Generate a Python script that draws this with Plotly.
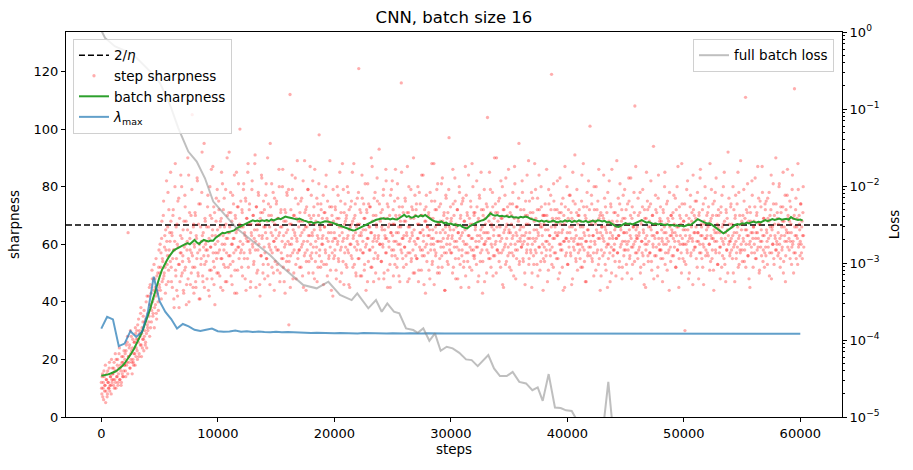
import plotly.graph_objects as go

# ---------------- data ----------------
eta = 0.03
threshold = 2 / eta  # 2/eta

# step sharpness, one value every 50 steps starting at step 0
step_sharp = [
    12, 8, 15, 10, 6, 14, 11, 18, 9, 13, 7, 16, 12, 10, 19, 11, 14, 8, 13, 17,
    15, 11, 19, 13, 22, 10, 16, 14, 20, 12, 17, 24, 13, 18, 11, 21, 15, 19, 14, 23,
    18, 22, 14, 25, 19, 28, 64, 21, 24, 17, 30, 20, 23, 15, 27, 19, 22, 26, 18, 29,
    24, 30, 20, 27, 34, 22, 29, 25, 38, 21, 31, 27, 35, 23, 28, 33, 26, 40, 24, 32,
    30, 42, 35, 28, 46, 38, 33, 51, 40, 36, 44, 31, 48, 39, 55, 34, 43, 50, 37, 58,
    45, 60, 52, 41, 68, 55, 48, 75, 50, 63, 43, 58, 82, 53, 66, 47, 72, 56, 61, 85,
    52, 64, 45, 70, 58, 38, 61, 88, 49, 55, 67, 42, 59, 76, 53, 47, 63, 57, 80, 50,
    56, 44, 68, 51, 73, 60, 39, 58, 65, 48, 84, 54, 62, 46, 70, 57, 105, 52, 66, 43,
    59, 71, 47, 63, 55, 82, 50, 67, 41, 58, 74, 53, 61, 92, 49, 64, 56, 45, 69, 60,
    54, 66, 58, 77, 44, 62, 51, 70, 59, 86, 48, 65, 57, 73, 52, 39, 63, 68, 55, 79,
    61, 50, 72, 58, 66, 45, 69, 55, 81, 63, 53, 76, 60, 47, 67, 57, 90, 62, 52, 71,
    64, 56, 78, 49, 68, 60, 54, 74, 62, 43, 70, 58, 85, 65, 51, 73, 59, 66, 100, 57,
    66, 52, 71, 60, 79, 57, 64, 48, 75, 62, 69, 55, 88, 61, 72, 58, 45, 67, 63, 82,
    59, 70, 54, 65, 91, 61, 73, 50, 67, 58, 77, 63, 46, 69, 56, 84, 62, 71, 53, 66,
    72, 57, 64, 81, 55, 68, 49, 74, 60, 66, 95, 58, 70, 52, 63, 78, 61, 44, 67, 59,
    62, 75, 53, 69, 58, 86, 64, 50, 71, 57, 66, 80, 55, 63, 47, 72, 60, 68, 54, 77,
    65, 51, 32, 60, 112, 56, 67, 62, 79, 48, 70, 58, 64, 83, 53, 69, 61, 57, 74, 66,
    58, 71, 63, 52, 76, 60, 68, 45, 65, 89, 57, 72, 54, 66, 61, 79, 50, 70, 63, 56,
    69, 55, 64, 82, 59, 73, 48, 67, 61, 57, 76, 63, 52, 70, 98, 58, 65, 74, 54, 62,
    60, 77, 53, 66, 71, 57, 84, 62, 49, 68, 64, 56, 73, 59, 67, 44, 70, 61, 79, 55,
    64, 58, 72, 51, 67, 80, 61, 55, 69, 63, 47, 75, 59, 66, 88, 54, 62, 71, 57, 68,
    53, 70, 62, 58, 78, 46, 65, 60, 73, 56, 67, 85, 52, 63, 69, 59, 74, 50, 66, 61,
    67, 55, 121, 63, 72, 58, 64, 49, 76, 61, 57, 69, 53, 81, 65, 60, 71, 47, 62, 74,
    58, 66, 73, 52, 64, 87, 59, 70, 55, 62, 78, 50, 67, 61, 75, 56, 63, 93, 60, 68,
    71, 54, 65, 60, 77, 48, 69, 63, 57, 82, 62, 74, 51, 66, 59, 70, 45, 64, 79, 56,
    63, 72, 58, 67, 53, 86, 61, 69, 55, 76, 64, 49, 70, 60, 66, 116, 57, 73, 62, 52,
    68, 59, 75, 56, 64, 71, 47, 66, 80, 61, 57, 69, 54, 73, 63, 58, 90, 65, 50, 70,
    60, 74, 55, 67, 62, 51, 78, 64, 58, 70, 84, 56, 65, 61, 46, 72, 59, 68, 77, 54,
    66, 57, 71, 63, 48, 69, 60, 75, 53, 65, 62, 88, 58, 72, 56, 64, 79, 50, 67, 61,
    73, 55, 64, 59, 81, 52, 68, 62, 70, 57, 44, 66, 76, 60, 54, 71, 63, 97, 58, 65,
    57, 69, 62, 50, 74, 65, 59, 83, 55, 67, 61, 72, 48, 64, 58, 78, 53, 70, 63, 56,
    64, 76, 52, 68, 60, 87, 57, 66, 71, 54, 63, 45, 69, 59, 75, 62, 51, 67, 80, 58,
    70, 56, 65, 61, 53, 73, 59, 68, 49, 77, 63, 57, 85, 62, 66, 54, 72, 60, 47, 69,
    61, 74, 58, 104, 64, 55, 70, 62, 79, 52, 67, 59, 73, 56, 65, 90, 60, 71, 50, 66,
    58, 68, 75, 54, 63, 61, 82, 57, 69, 46, 72, 64, 59, 77, 53, 66, 62, 70, 56, 86,
    65, 52, 71, 60, 67, 57, 74, 63, 49, 69, 81, 58, 64, 55, 73, 61, 68, 95, 54, 62,
    72, 59, 63, 78, 55, 66, 61, 50, 70, 64, 57, 84, 60, 67, 53, 75, 62, 58, 69, 45,
    60, 71, 56, 65, 88, 58, 69, 62, 53, 76, 64, 59, 72, 51, 66, 80, 57, 63, 70, 55,
    67, 54, 74, 61, 58, 70, 47, 65, 79, 60, 63, 56, 72, 119, 59, 68, 52, 75, 62, 66,
    57, 69, 63, 82, 55, 64, 71, 50, 67, 60, 74, 58, 65, 44, 70, 61, 87, 56, 68, 62,
    64, 53, 72, 59, 66, 77, 56, 62, 69, 48, 75, 61, 58, 91, 65, 54, 71, 60, 67, 57,
    70, 62, 55, 68, 60, 84, 52, 66, 73, 58, 63, 47, 69, 61, 78, 56, 65, 59, 72, 101,
    59, 67, 74, 54, 63, 57, 80, 61, 68, 51, 65, 72, 58, 62, 86, 55, 70, 64, 49, 66,
    63, 56, 69, 61, 76, 53, 65, 59, 71, 45, 67, 60, 82, 57, 64, 73, 50, 68, 62, 58,
    71, 60, 54, 66, 62, 89, 57, 70, 63, 52, 74, 59, 65, 68, 48, 61, 77, 56, 64, 69,
    58, 72, 64, 50, 67, 61, 75, 55, 63, 83, 59, 69, 53, 66, 60, 71, 108, 57, 65, 62,
    66, 55, 70, 63, 59, 78, 52, 67, 61, 73, 56, 64, 46, 69, 62, 58, 85, 60, 72, 54,
    61, 68, 57, 74, 65, 51, 70, 60, 94, 63, 56, 67, 72, 59, 64, 49, 76, 62, 58, 69,
    73, 58, 65, 61, 55, 71, 64, 80, 53, 67, 60, 62, 75, 57, 68, 44, 66, 59, 70, 63,
    56, 69, 62, 77, 59, 64, 52, 72, 66, 58, 87, 61, 55, 70, 63, 67, 50, 74, 60, 65,
    68, 54, 30, 63, 60, 79, 57, 65, 48, 69, 62, 73, 56, 66, 71, 61, 84, 58, 70, 64,
    59, 66, 75, 52, 64, 61, 70, 57, 83, 63, 67, 55, 72, 60, 46, 68, 62, 76, 58, 65,
    63, 71, 56, 67, 60, 88, 54, 69, 62, 58, 74, 51, 65, 61, 78, 57, 70, 64, 53, 66,
    70, 57, 64, 59, 73, 52, 66, 61, 80, 55, 68, 62, 47, 71, 58, 65, 92, 60, 67, 56,
    61, 74, 58, 66, 63, 50, 72, 60, 69, 77, 55, 64, 59, 85, 62, 53, 70, 57, 67, 65,
    58, 67, 62, 79, 54, 69, 111, 60, 65, 71, 56, 63, 48, 73, 61, 68, 59, 82, 64, 52,
    66, 60, 73, 55, 64, 70, 58, 87, 62, 67, 51, 75, 59, 65, 61, 78, 54, 69, 63, 57,
    72, 56, 65, 61, 76, 59, 68, 49, 70, 63, 84, 57, 66, 60, 74, 53, 67, 62, 90, 58,
    60, 69, 64, 57, 81, 62, 55, 71, 66, 59, 73, 50, 68, 63, 77, 56, 65, 61, 86, 70,
    64, 58, 75, 61, 67, 53, 79, 60, 69, 57, 114, 63, 72, 55, 66, 62, 88, 59, 70, 65,
    61, 74, 57, 68, 63, 80, 59,
]

# step sharpness, the interleaved samples (every 50 steps starting at step 25)
step_sharp_b = [
    10, 14, 7, 12, 16, 9, 11, 5, 13, 15, 8, 12, 10, 17, 9, 14, 11, 20, 12, 15,
    13, 17, 10, 16, 12, 20, 14, 18, 11, 15, 22, 13, 17, 16, 12, 19, 14, 21, 16, 18,
    20, 16, 23, 18, 26, 15, 21, 19, 25, 17, 22, 28, 19, 24, 20, 18, 26, 22, 31, 21,
    27, 23, 32, 26, 21, 30, 28, 36, 25, 29, 24, 33, 27, 37, 30, 25, 34, 29, 42, 31,
    36, 33, 45, 39, 31, 43, 37, 48, 35, 41, 53, 38, 45, 42, 36, 49, 44, 40, 52, 46,
    50, 44, 57, 62, 47, 54, 70, 49, 59, 52, 65, 46, 61, 56, 78, 51, 58, 64, 54, 68,
    47, 63, 55, 72, 41, 58, 80, 51, 66, 44, 60, 75, 53, 38, 69, 57, 84, 49, 62, 54,
    65, 43, 59, 77, 52, 68, 46, 61, 90, 55, 40, 71, 58, 64, 50, 79, 56, 45, 67, 60,
    52, 70, 45, 62, 83, 57, 49, 74, 60, 41, 66, 55, 78, 63, 47, 59, 95, 53, 68, 58,
    61, 48, 73, 56, 66, 42, 80, 59, 51, 69, 63, 87, 54, 46, 71, 60, 57, 76, 50, 65,
    57, 75, 63, 49, 68, 55, 85, 60, 44, 72, 58, 66, 52, 79, 62, 47, 70, 64, 56, 92,
    66, 53, 71, 60, 46, 77, 62, 57, 84, 51, 69, 64, 43, 73, 59, 81, 55, 67, 61, 75,
    58, 72, 49, 66, 81, 55, 63, 76, 44, 69, 61, 85, 52, 67, 74, 57, 47, 64, 79, 60,
    70, 53, 62, 88, 58, 45, 73, 65, 51, 78, 60, 67, 42, 71, 56, 83, 63, 50, 75, 59,
    48, 66, 77, 55, 62, 90, 53, 70, 59, 46, 73, 64, 81, 57, 68, 50, 61, 76, 54, 65,
    74, 58, 51, 69, 63, 80, 47, 66, 72, 55, 61, 86, 52, 68, 59, 43, 71, 64, 78, 56,
    61, 79, 54, 67, 45, 72, 60, 84, 57, 65, 50, 70, 63, 76, 48, 62, 89, 55, 68, 58,
    52, 68, 75, 59, 64, 49, 82, 61, 56, 71, 66, 44, 73, 58, 79, 63, 54, 67, 87, 60,
    77, 57, 63, 50, 70, 65, 86, 54, 68, 59, 47, 74, 62, 81, 56, 66, 52, 72, 60, 69,
    63, 46, 71, 66, 58, 80, 53, 69, 75, 61, 55, 67, 89, 51, 64, 73, 57, 42, 68, 62,
    56, 73, 62, 48, 69, 60, 77, 54, 66, 85, 58, 71, 50, 64, 61, 79, 46, 67, 74, 59,
    69, 52, 80, 63, 57, 72, 45, 66, 60, 75, 55, 68, 62, 88, 53, 70, 64, 49, 58, 76,
    60, 78, 55, 67, 49, 71, 63, 84, 57, 65, 74, 51, 69, 59, 44, 72, 62, 81, 54, 66,
    73, 58, 64, 90, 52, 68, 61, 47, 76, 63, 57, 70, 66, 83, 55, 62, 48, 74, 60, 69,
    54, 66, 72, 59, 79, 50, 65, 62, 86, 57, 69, 45, 73, 61, 67, 53, 77, 64, 58, 82,
    67, 49, 61, 75, 56, 70, 64, 52, 81, 60, 66, 73, 47, 68, 58, 85, 62, 55, 71, 63,
    59, 76, 68, 53, 63, 87, 57, 71, 48, 66, 62, 79, 55, 64, 72, 50, 69, 61, 77, 56,
    72, 55, 62, 80, 47, 67, 59, 74, 64, 51, 70, 58, 84, 63, 56, 68, 43, 73, 60, 66,
    63, 70, 51, 65, 78, 58, 62, 88, 54, 69, 60, 46, 75, 66, 57, 72, 61, 81, 52, 67,
    50, 68, 74, 61, 56, 83, 65, 59, 71, 44, 64, 77, 57, 69, 62, 53, 79, 66, 60, 73,
    68, 57, 63, 86, 52, 70, 61, 75, 48, 66, 59, 72, 64, 55, 80, 62, 69, 45, 74, 58,
    75, 61, 54, 68, 65, 49, 77, 60, 70, 57, 84, 63, 52, 67, 73, 58, 88, 62, 56, 71,
    55, 71, 66, 59, 82, 63, 47, 69, 61, 76, 54, 65, 72, 58, 43, 70, 64, 79, 60, 67,
    64, 50, 73, 62, 57, 68, 85, 55, 71, 60, 66, 78, 49, 63, 69, 56, 74, 61, 90, 58,
    71, 63, 57, 76, 66, 52, 69, 62, 80, 58, 45, 72, 65, 60, 83, 54, 67, 73, 59, 64,
    57, 74, 64, 51, 70, 62, 78, 56, 66, 87, 60, 48, 73, 63, 58, 69, 76, 53, 65, 61,
    66, 59, 82, 60, 54, 72, 63, 46, 75, 67, 58, 70, 62, 89, 55, 64, 71, 57, 78, 50,
    76, 62, 53, 68, 61, 79, 57, 65, 72, 49, 63, 84, 59, 67, 54, 73, 66, 60, 44, 70,
    59, 70, 65, 56, 86, 61, 68, 51, 74, 63, 58, 77, 66, 53, 69, 62, 81, 57, 72, 64,
    67, 55, 72, 63, 48, 69, 60, 83, 58, 71, 64, 52, 76, 61, 67, 45, 73, 62, 57, 80,
    53, 69, 61, 77, 64, 57, 71, 46, 66, 85, 59, 68, 62, 74, 55, 63, 79, 51, 70, 60,
    72, 58, 66, 52, 75, 62, 59, 88, 64, 54, 70, 61, 47, 73, 65, 57, 82, 63, 68, 56,
    61, 77, 55, 68, 63, 49, 72, 60, 67, 80, 57, 64, 75, 53, 69, 62, 44, 71, 58, 66,
    70, 62, 84, 57, 66, 73, 51, 64, 60, 78, 55, 68, 62, 47, 74, 59, 86, 63, 56, 67,
    58, 65, 71, 49, 62, 68, 57, 76, 63, 54, 81, 66, 60, 72, 52, 69, 64, 58, 79, 61,
    67, 53, 60, 74, 58, 83, 65, 56, 70, 62, 48, 73, 59, 66, 78, 54, 61, 87, 63, 57,
    62, 76, 58, 64, 71, 50, 68, 61, 57, 79, 65, 53, 72, 60, 45, 69, 63, 75, 56, 66,
    73, 57, 66, 82, 54, 63, 70, 59, 48, 67, 62, 77, 56, 71, 64, 52, 84, 60, 68, 58,
    55, 68, 62, 47, 72, 60, 66, 85, 57, 64, 74, 51, 69, 61, 58, 78, 63, 54, 70, 65,
    64, 71, 56, 67, 61, 76, 52, 63, 80, 58, 66, 45, 73, 60, 69, 57, 88, 62, 55, 68,
    60, 74, 65, 53, 70, 58, 82, 61, 67, 50, 63, 77, 57, 68, 62, 46, 72, 64, 59, 75,
    69, 55, 61, 78, 64, 48, 71, 60, 86, 57, 66, 63, 52, 74, 59, 67, 80, 56, 62, 70,
    57, 66, 73, 60, 51, 68, 63, 79, 55, 70, 62, 44, 75, 64, 58, 83, 61, 67, 53, 72,
    65, 59, 48, 71, 62, 77, 56, 67, 60, 85, 53, 64, 72, 58, 69, 50, 63, 76, 61, 57,
    73, 62, 67, 55, 80, 59, 64, 47, 70, 61, 57, 74, 66, 52, 78, 63, 58, 89, 60, 68,
    54, 70, 61, 75, 58, 65, 52, 72, 63, 81, 56, 68, 60, 45, 71, 64, 57, 77, 62, 66,
    68, 57, 83, 62, 55, 71, 64, 59, 76, 50, 67, 61, 73, 56, 87, 63, 58, 69, 52, 74,
    59, 75, 64, 53, 69, 62, 78, 57, 66, 72, 48, 65, 60, 81, 55, 70, 63, 58, 74, 61,
    71, 56, 67, 80, 60, 52, 73, 63, 58, 68, 85, 54, 66, 61, 47, 72, 64, 77, 59, 69,
    62, 68, 55, 73, 64, 59, 84, 61, 50, 70, 66, 57, 76, 63, 69, 53, 79, 60, 67, 56,
    74, 60, 66, 55, 71, 63,
]

# batch sharpness, one value every 200 steps starting at step 0
batch_sharp = [
    14.3, 14.4, 14.6, 14.8, 15.1, 15.4, 15.8, 16.3, 16.9, 17.7,
    18.6, 19.7, 20.9, 22.2, 23.6, 25.1, 26.8, 28.6, 30.6, 32.7,
    35.0, 37.6, 40.5, 43.4, 46.0, 48.6, 51.0, 52.8, 54.2, 55.6,
    56.9, 57.8, 58.3, 58.9, 59.2, 59.6, 60.1, 60.4, 60.0, 60.9,
    61.5, 60.6, 60.1, 60.9, 61.5, 61.2, 61.0, 61.3, 61.2, 62.2,
    62.9, 63.5, 64.0, 63.8, 64.2, 64.3, 64.6, 64.8, 65.5, 65.9,
    66.4, 66.7, 67.2, 67.6, 67.9, 68.3, 68.0, 68.2, 67.9, 68.3,
    68.1, 68.4, 68.0, 68.6, 68.3, 68.8, 69.0, 68.7, 69.2, 69.6,
    69.4, 69.3, 69.0, 68.8, 68.6, 68.9, 68.4, 68.2, 68.0, 67.6,
    67.8, 67.3, 67.5, 67.7, 67.4, 67.8, 68.0, 67.9, 67.8, 67.5,
    67.2, 66.9, 66.5, 66.2, 66.0, 65.7, 65.3, 65.0, 64.8, 64.9,
    65.3, 65.7, 66.2, 66.5, 66.8, 67.3, 67.8, 68.2, 68.5, 68.7,
    68.9, 69.0, 68.8, 68.9, 68.6, 68.9, 68.7, 68.6, 69.1, 69.6,
    70.2, 69.5, 69.8, 69.2, 69.4, 69.9, 69.5, 70.0, 69.7, 70.2,
    69.5, 69.0, 68.4, 68.0, 67.8, 67.6, 67.9, 67.3, 67.5, 67.0,
    67.2, 66.8, 66.9, 66.4, 66.7, 66.0, 65.7, 65.5, 66.2, 66.8,
    67.1, 67.5, 67.9, 68.2, 68.4, 68.9, 69.8, 70.7, 70.2, 69.9,
    70.1, 69.7, 69.9, 69.6, 69.8, 69.4, 69.7, 69.3, 69.4, 69.1,
    69.5, 69.3, 69.6, 69.4, 68.9, 68.6, 68.3, 68.1, 67.9, 68.2,
    67.8, 68.1, 67.7, 67.9, 68.2, 67.8, 67.6, 68.0, 67.8, 68.3,
    67.9, 68.2, 67.7, 68.1, 67.8, 68.3, 67.9, 67.8, 68.1, 67.6,
    67.9, 68.2, 67.8, 68.3, 68.2, 67.9, 68.1, 67.6, 67.7, 67.2,
    66.6, 66.1, 66.0, 66.5, 66.9, 67.3, 67.0, 67.2, 66.9, 67.3,
    67.6, 68.1, 68.4, 67.9, 67.5, 67.7, 67.3, 67.0, 67.2, 66.9,
    67.1, 66.8, 66.6, 66.9, 66.5, 66.7, 66.4, 66.6, 66.3, 66.5,
    66.2, 66.5, 66.8, 66.7, 67.3, 68.0, 68.7, 68.3, 67.8, 67.5,
    67.2, 67.3, 66.8, 66.2, 65.5, 64.8, 64.2, 63.8, 64.3, 64.9,
    65.6, 66.2, 66.7, 67.0, 66.8, 67.3, 67.1, 67.5, 67.2, 67.6,
    67.9, 67.5, 67.8, 67.6, 68.1, 68.4, 68.0, 68.5, 68.7, 68.4,
    68.6, 68.9, 68.5, 68.7, 68.8, 68.5, 69.4, 68.9, 68.7, 68.4,
    68.6, 68.2,
]

# lambda_max (full-batch top Hessian eigenvalue), one value every 500 steps
lam_max = [
    30.7, 34.8, 33.9, 24.6, 25.5, 29.8, 27.8, 29.6, 36.5, 48.7,
    40.2, 36.5, 34.0, 30.7, 32.3, 31.5, 30.3, 29.9, 30.3, 30.7,
    29.8, 29.6, 29.7, 30.0, 29.6, 29.8, 29.5, 29.7, 29.5, 29.4,
    29.6, 29.4, 29.5, 29.4, 29.3, 29.4, 29.2, 29.3, 29.2, 29.3,
    29.1, 29.2, 29.1, 29.2, 29.0, 29.2, 29.1, 29.0, 29.1, 29.0,
    29.1, 29.0, 29.0, 29.1, 29.0, 29.0, 29.1, 29.0, 29.0, 29.0,
    29.0, 29.1, 29.0, 29.0, 29.0, 29.0, 29.0, 29.1, 29.0, 29.0,
    29.0, 29.0, 29.0, 29.0, 29.1, 29.0, 29.0, 29.0, 28.9, 29.0,
    29.0, 29.0, 28.9, 29.0, 29.0, 28.9, 29.0, 29.1, 29.0, 28.9,
    29.0, 28.9, 29.0, 28.9, 28.9, 29.0, 28.9, 28.9, 29.0, 28.9,
    28.9, 28.9, 29.0, 28.9, 28.9, 28.9, 28.9, 29.0, 28.9, 28.9,
    28.9, 28.9, 29.0, 28.9, 28.9, 28.9, 28.9, 28.9, 28.9, 28.9,
    28.9,
]

# full batch loss
loss_steps = [
    0, 320, 1180, 2180, 3040, 4180, 5040, 5900, 6610, 7470,
    8190, 8900, 9610, 10620, 11620, 13050, 14480, 15340, 16200, 17340,
    18490, 19490, 20490, 21490, 21970, 22920, 23580, 24070, 24550, 25120,
    25580, 26160, 26780, 27160, 27640, 28160, 28640, 29130, 29650, 30160,
    30730, 31310, 31790, 32310, 33220, 33710, 34220, 34800, 35310, 35880,
    36460, 37000, 37460, 37890, 38400, 38940, 39430, 39890, 40380, 41100,
    41600, 42100, 42600, 43000, 43520, 44000, 44500, 45000, 46000, 47000,
    48000, 49000, 50000, 51000, 52000, 53000, 54000, 55000, 56000, 57000,
    58000, 59000, 60000,
]
loss_vals = [
    1.05, 0.836, 0.650, 0.560, 0.459, 0.308, 0.217, 0.1135, 0.0565, 0.0280,
    0.0207, 0.0126, 0.00627, 0.00421, 0.00282, 0.00189, 0.00127, 0.000942, 0.000735, 0.000518,
    0.000469, 0.000571, 0.000384, 0.000330, 0.000404, 0.000258, 0.000330, 0.000233, 0.000299, 0.000233,
    0.000222, 0.0001416, 0.0001346, 0.0001242, 0.0001416, 0.0000977, 0.0001219, 0.0000724, 0.0000817, 0.0000778,
    0.0000682, 0.0000560, 0.0000548, 0.0000458, 0.0000637, 0.0000428, 0.0000340, 0.0000340, 0.0000385, 0.0000286,
    0.0000273, 0.0000223, 0.0000242, 0.0000162, 0.0000361, 0.0000133, 0.0000131, 0.0000122, 0.0000120, 0.0000076,
    0.0000052, 0.0000041, 0.0000047, 0.0000056, 0.0000286, 0.0000050, 0.0000034, 0.0000031, 0.0000026, 0.0000023,
    0.0000021, 0.0000019, 0.0000017, 0.0000016, 0.0000015, 0.0000014, 0.0000013, 0.0000012, 0.0000011, 0.0000011,
    0.0000010, 0.0000010, 0.0000009,
]

x_ticks = [0, 10000, 20000, 30000, 40000, 50000, 60000]
y_ticks = [0, 20, 40, 60, 80, 100, 120]
loss_ticks = [1e-5, 1e-4, 1e-3, 1e-2, 1e-1, 1e0]
loss_tick_text = ["10<sup>−5</sup>", "10<sup>−4</sup>", "10<sup>−3</sup>",
                  "10<sup>−2</sup>", "10<sup>−1</sup>", "10<sup>0</sup>"]

# ---------------- derived step positions ----------------
ss_x = [50 * i for i in range(len(step_sharp))] + [25 + 50 * i for i in range(len(step_sharp_b))]
ss_y = step_sharp + step_sharp_b
bs_steps = [200 * i for i in range(len(batch_sharp))]
lm_steps = [500 * i for i in range(len(lam_max))]

x_range = [-3030, 63580]

fig = go.Figure()
fig.add_trace(go.Scatter(
    x=x_range, y=[threshold, threshold], mode="lines",
    line=dict(color="black", width=1.6, dash="6px,3px"),
    name="2/<i>η</i>", legend="legend"))
fig.add_trace(go.Scatter(
    x=ss_x, y=ss_y, mode="markers",
    marker=dict(color="red", size=3.3, opacity=0.32, line=dict(width=0)),
    name="step sharpness", legend="legend"))
fig.add_trace(go.Scatter(
    x=bs_steps, y=batch_sharp, mode="lines",
    line=dict(color="#2ca02c", width=2),
    name="batch sharpness", legend="legend"))
fig.add_trace(go.Scatter(
    x=lm_steps, y=lam_max, mode="lines",
    line=dict(color="#1f77b4", width=2), opacity=0.7,
    name="<i>λ</i><sub>max</sub>", legend="legend"))
fig.add_trace(go.Scatter(
    x=loss_steps, y=loss_vals, mode="lines", yaxis="y2",
    line=dict(color="gray", width=2), opacity=0.5,
    name="full batch loss", legend="legend2"))

axis_common = dict(showline=True, linecolor="black", linewidth=1,
                   ticks="outside", ticklen=4, tickcolor="black", tickwidth=1,
                   showgrid=False, zeroline=False)

fig.update_layout(
    width=913, height=470,
    margin=dict(l=66, r=71, t=32, b=53),
    paper_bgcolor="white", plot_bgcolor="white",
    font=dict(family="DejaVu Sans", size=13, color="black"),
    title=dict(text="CNN, batch size 16", x=0.5, xref="paper", xanchor="center",
               y=1 - 17 / 470, yref="container", yanchor="middle",
               font=dict(size=16.5)),
    xaxis=dict(range=x_range, mirror=True, tickvals=x_ticks, tickformat="d",
               title=dict(text="steps", standoff=4, font=dict(size=13.5)),
               **axis_common),
    yaxis=dict(range=[0, 133.7], tickvals=y_ticks,
               title=dict(text="sharpness", standoff=10, font=dict(size=13.5)),
               **axis_common),
    yaxis2=dict(type="log", range=[-5, 0], overlaying="y", side="right",
                tickvals=loss_ticks, ticktext=loss_tick_text,
                minor=dict(ticks="outside", ticklen=2, tickcolor="black", dtick="D1"),
                title=dict(text="Loss", standoff=10, font=dict(size=13.5)),
                **axis_common),
    legend=dict(x=0.009, y=0.982, xanchor="left", yanchor="top",
                bgcolor="rgba(255,255,255,0.8)", bordercolor="#d0d0d0",
                borderwidth=1, font=dict(size=13.5)),
    legend2=dict(x=0.9897, y=0.982, xanchor="right", yanchor="top",
                 bgcolor="rgba(255,255,255,0.8)", bordercolor="#d0d0d0",
                 borderwidth=1, font=dict(size=13.5)),
)

fig.write_html("out.html", config={"displayModeBar": False},
               post_script="document.body.style.margin='0';document.body.style.overflow='hidden';")
